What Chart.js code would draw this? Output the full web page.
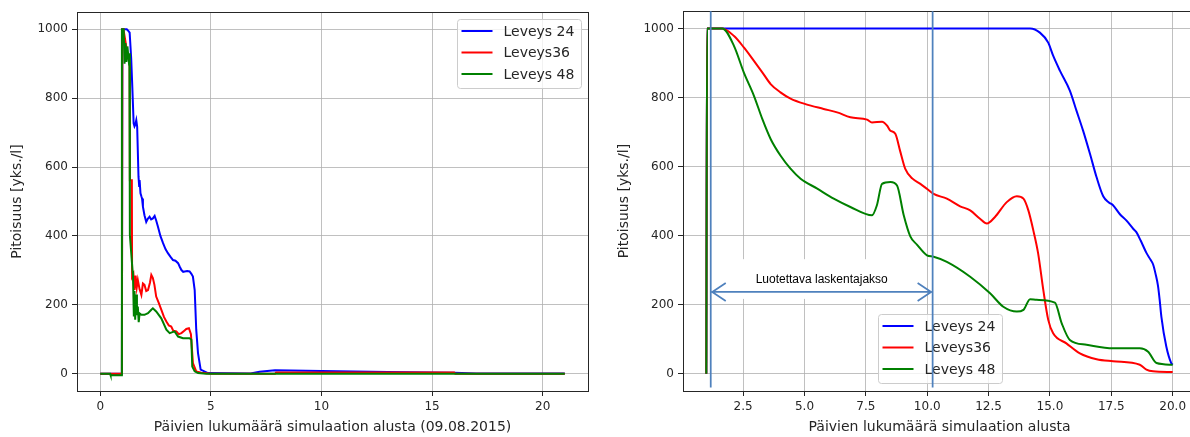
<!DOCTYPE html>
<html>
<head>
<meta charset="utf-8">
<script src="https://cdn.jsdelivr.net/npm/chart.js@4.4.1/dist/chart.umd.min.js"></script>
<style>
  html, body { margin: 0; padding: 0; background: #fff; width: 1190px; height: 437px; overflow: hidden; }
  canvas { position: absolute; top: 0; }
  #left { left: 0; }
  #right { left: 600px; }
</style>
</head>
<body>
<canvas id="left" width="600" height="437"></canvas>
<canvas id="right" width="610" height="437"></canvas>
<script>
/* ---------------------------------------------------------------- *
 * Data. [day, concentration] pairs.
 * ---------------------------------------------------------------- */
const SERIES_LABELS = ["Leveys 24", "Leveys36", "Leveys 48"];
const SERIES_COLORS = ["#0000ff", "#ff0000", "#008000"];

// Left panel: whole run (days from 09.08.2015)
const left24 = [[0,0],[0.98,0],[1.0,1000],[1.2,1000],[1.27,995],[1.33,990],[1.4,915],[1.45,833],[1.51,727],
  [1.55,718],[1.58,722],[1.63,736],[1.67,717],[1.73,572],[1.76,545],[1.78,562],[1.82,524],[1.86,515],[1.89,509],
  [1.93,485],[2.0,460],[2.08,441],[2.15,450],[2.23,456],[2.3,448],[2.38,451],[2.46,458],[2.53,445],[2.61,427],
  [2.72,400],[2.84,379],[2.95,362],[3.06,350],[3.17,340],[3.29,330],[3.4,328],[3.52,321],[3.6,310],[3.67,301],
  [3.75,296],[3.82,297],[3.93,298],[4.04,297],[4.12,290],[4.19,282],[4.27,243],[4.34,128],[4.42,60],[4.54,12],
  [4.87,2],[6.8,1],[7.2,6],[7.9,10],[10,8],[13,5],[16,3],[17,1],[21,1]];
const left36 = [[0,0],[0.98,0],[1.0,1000],[1.05,1000],[1.15,960],[1.25,920],[1.33,900],[1.34,562],[1.43,562],
  [1.44,282],[1.5,290],[1.55,243],[1.6,285],[1.65,250],[1.7,272],[1.78,245],[1.86,229],[1.93,262],[2.0,258],
  [2.08,240],[2.16,243],[2.25,265],[2.31,287],[2.38,278],[2.45,258],[2.53,224],[2.65,205],[2.76,186],[2.88,165],
  [2.99,152],[3.1,140],[3.21,137],[3.3,125],[3.44,123],[3.55,115],[3.67,118],[3.8,125],[3.89,130],[4.01,132],
  [4.1,115],[4.19,31],[4.34,7],[4.57,3],[5,0],[7.9,0],[7.95,4],[16,4],[16.05,0],[21,0]];
const left48 = [[0,0],[0.45,0],[0.47,-4],[0.96,-4],[0.98,1000],[1.06,1000],[1.1,900],[1.14,960],[1.18,905],
  [1.23,950],[1.28,915],[1.32,930],[1.34,403],[1.46,300],[1.48,287],[1.52,166],[1.55,240],[1.58,157],[1.62,230],
  [1.66,170],[1.7,195],[1.74,150],[1.78,175],[1.86,171],[2.0,171],[2.16,176],[2.31,186],[2.38,190],[2.53,181],
  [2.76,161],[2.99,128],[3.14,118],[3.36,123],[3.52,108],[3.74,103],[4.04,103],[4.12,99],[4.16,21],[4.27,7],
  [4.42,2],[4.8,0],[21,0]];

// Right panel: days from the start of the simulation
const right24 = [[1.0,0],[1.03,1000],[14.19,1000],[14.59,988],[14.93,959],[15.13,921],[15.41,877],[15.81,820],
  [16.08,762],[16.35,704],[16.63,637],[16.9,569],[17.17,514],[17.4,496],[17.57,488],[17.85,462],[18.11,444],
  [18.39,420],[18.52,410],[18.7,385],[18.93,350],[19.1,330],[19.2,317],[19.3,290],[19.4,255],[19.47,214],
  [19.54,165],[19.74,79],[19.94,31],[20.0,26]];
const right36 = [[1.0,0],[1.03,1000],[1.65,1000],[2.13,978],[2.53,945],[2.94,906],[3.28,873],[3.62,839],[4.02,815],
  [4.43,797],[5.04,781],[5.78,767],[6.33,757],[6.87,743],[7.55,736],[7.75,728],[8.16,730],[8.36,719],[8.5,704],
  [8.7,695],[8.9,644],[9.1,594],[9.4,565],[9.72,550],[10.0,535],[10.26,521],[10.8,507],[11.34,485],[11.75,473],
  [12.15,449],[12.43,435],[12.76,454],[13.24,497],[13.65,514],[13.92,507],[14.12,473],[14.32,416],[14.52,348],
  [14.73,242],[14.93,156],[15.13,117],[15.67,88],[16.22,59],[16.9,42],[17.57,36],[18.66,26],[18.93,12],[19.2,7],
  [20.0,5]];
const right48 = [[1.0,0],[1.03,1000],[1.65,1000],[2.13,949],[2.53,872],[2.94,805],[3.28,738],[3.62,680],[4.02,632],
  [4.43,594],[4.84,565],[5.52,536],[6.19,507],[6.87,483],[7.75,459],[7.95,488],[8.16,550],[8.5,555],[8.77,545],
  [9.04,460],[9.31,398],[9.58,374],[9.99,343],[10.26,339],[10.8,324],[11.75,281],[12.56,233],[13.1,194],
  [13.65,180],[13.92,185],[14.19,216],[14.46,214],[15.2,206],[15.48,146],[15.81,98],[16.49,84],[17.57,74],
  [18.66,74],[19.0,64],[19.34,31],[20.0,26]];

// "Reliable period" marker on the right panel (data units)
const spanStart = 1.18;
const spanEnd = 10.22;
const spanArrowY = 237;
const spanLabelY = 271;
const spanLabel = "Luotettava laskentajakso";

const Y_TITLE = "Pitoisuus [yks./l]";
const X_TITLE_LEFT = "Päivien lukumäärä simulaation alusta (09.08.2015)";
const X_TITLE_RIGHT = "Päivien lukumäärä simulaation alusta";

/* ---------------------------------------------------------------- *
 * Plugins: matplotlib-like frame, boxed legend, span annotation
 * ---------------------------------------------------------------- */
const framePlugin = {
  id: "frame",
  afterDatasetsDraw(chart) {
    const { ctx, chartArea: a } = chart;
    ctx.save();
    ctx.strokeStyle = "#262626";
    ctx.lineWidth = 1;
    ctx.strokeRect(Math.round(a.left) + 0.5, Math.round(a.top) + 0.5,
                   Math.round(a.right - a.left), Math.round(a.bottom - a.top));
    ctx.restore();
  },
};

const boxLegend = {
  id: "boxLegend",
  afterDraw(chart, args, opts) {
    const { ctx, chartArea: a } = chart;
    const items = chart.data.datasets;
    ctx.save();
    ctx.font = '14px "DejaVu Sans"';
    const textW = Math.max(...items.map((d) => ctx.measureText(d.label).width));
    const w = 4 + 31 + 11 + textW + 7;
    const h = 69;
    let x, y;
    if (opts.loc === "lower center") {
      x = (a.left + a.right) / 2 - w / 2;
      y = a.bottom - 8 - h;
    } else {
      x = a.right - 7 - w;
      y = a.top + 7;
    }
    x = Math.round(x) + 0.5; y = Math.round(y) + 0.5;
    ctx.beginPath();
    ctx.roundRect(x, y, Math.round(w), h, 3);
    ctx.fillStyle = "rgba(255,255,255,0.8)";
    ctx.fill();
    ctx.strokeStyle = "#cccccc";
    ctx.lineWidth = 1;
    ctx.stroke();
    ctx.textBaseline = "middle";
    items.forEach((d, i) => {
      const cy = y + 11.5 + i * 21.5;
      ctx.beginPath();
      ctx.moveTo(x + 4, cy);
      ctx.lineTo(x + 35, cy);
      ctx.strokeStyle = d.borderColor;
      ctx.lineWidth = 2;
      ctx.stroke();
      ctx.fillStyle = "#262626";
      ctx.fillText(d.label, x + 46, cy + 1);
    });
    ctx.restore();
  },
};

const spanNote = {
  id: "spanNote",
  beforeDatasetsDraw(chart) {
    // white patch behind the label hides the grid, as in the reference
    const { ctx } = chart;
    const xs = chart.scales.x, ys = chart.scales.y;
    const x0 = xs.getPixelForValue(spanStart), x1 = xs.getPixelForValue(spanEnd);
    const top = ys.getPixelForValue(spanLabelY) - 21;
    const bottom = ys.getPixelForValue(spanArrowY) + 7;
    ctx.save();
    ctx.fillStyle = "#ffffff";
    ctx.fillRect(x0 + 2, top, x1 - x0 - 8, bottom - top);
    ctx.restore();
  },
  afterDraw(chart) {
    const { ctx, chartArea: a } = chart;
    const xs = chart.scales.x, ys = chart.scales.y;
    const x0 = xs.getPixelForValue(spanStart), x1 = xs.getPixelForValue(spanEnd);
    const yA = ys.getPixelForValue(spanArrowY);
    const yBottom = ys.getPixelForValue(-40);
    ctx.save();
    ctx.strokeStyle = "#4f81bd";
    ctx.lineWidth = 1.75;
    ctx.beginPath();
    ctx.moveTo(x0, a.top); ctx.lineTo(x0, yBottom);
    ctx.moveTo(x1, a.top); ctx.lineTo(x1, yBottom);
    ctx.moveTo(x0 + 1, yA); ctx.lineTo(x1 - 1, yA);
    // open arrow heads
    ctx.moveTo(x0 + 15, yA - 9); ctx.lineTo(x0 + 1.5, yA); ctx.lineTo(x0 + 15, yA + 9);
    ctx.moveTo(x1 - 15, yA - 9); ctx.lineTo(x1 - 1.5, yA); ctx.lineTo(x1 - 15, yA + 9);
    ctx.stroke();
    ctx.fillStyle = "#000000";
    ctx.font = '12px "Liberation Sans"';
    ctx.textAlign = "center";
    ctx.textBaseline = "middle";
    ctx.fillText(spanLabel, (x0 + x1) / 2, ys.getPixelForValue(spanLabelY));
    ctx.restore();
  },
};

/* ---------------------------------------------------------------- *
 * Chart factory
 * ---------------------------------------------------------------- */
Chart.defaults.font.family = '"DejaVu Sans", sans-serif';
Chart.defaults.font.size = 12;
Chart.defaults.color = "#262626";

const GRID = { color: "#b0b0b0", lineWidth: 0.8, tickLength: 5, tickColor: "#262626", tickWidth: 1 };
const TITLE_FONT = { size: 14 };

function buildDatasets(series, smooth) {
  return series.map((pairs, i) => ({
    label: SERIES_LABELS[i],
    data: pairs.map(([x, y]) => ({ x, y })),
    borderColor: SERIES_COLORS[i],
    backgroundColor: SERIES_COLORS[i],
    borderWidth: 2,
    pointRadius: 0,
    tension: 0,
    cubicInterpolationMode: smooth ? "monotone" : "default",
    order: series.length - 1 - i,   // last series on top, like matplotlib
    fill: false,
  }));
}

function renderPanel(canvas, opts) {
  const { series, smooth, xMin, xMax, xStep, xFormat, xTitle, yWidth, padding, legendLoc, plugins } = opts;
  return new Chart(canvas, {
    type: "line",
    data: { datasets: buildDatasets(series, smooth) },
    options: {
      responsive: false,
      animation: false,
      devicePixelRatio: 1,
      layout: { padding },
      plugins: {
        legend: { display: false },
        tooltip: { enabled: false },
        boxLegend: { loc: legendLoc },
      },
      scales: {
        x: {
          type: "linear", min: xMin, max: xMax,
          ticks: { stepSize: xStep, includeBounds: false, autoSkip: false, maxRotation: 0,
                   padding: 4, callback: xFormat },
          grid: GRID,
          border: { display: false },
          title: { display: true, text: xTitle, padding: 0, font: TITLE_FONT },
          afterFit: (s) => { s.height = 45; },
        },
        y: {
          type: "linear", min: -50, max: 1050,
          ticks: { stepSize: 200, includeBounds: false, padding: 4, callback: (v) => String(v) },
          grid: GRID,
          border: { display: false },
          title: { display: true, text: Y_TITLE, padding: 0, font: TITLE_FONT },
          afterFit: (s) => { s.width = yWidth; },
        },
      },
    },
    plugins: [framePlugin, boxLegend, ...plugins],
  });
}

renderPanel(document.getElementById("left"), {
  series: [left24, left36, left48],
  smooth: false,
  xMin: -1.05, xMax: 22.05, xStep: 5,
  xFormat: (v) => String(v),
  xTitle: X_TITLE_LEFT,
  yWidth: 68,
  padding: { left: 9, right: 12, top: 12, bottom: 1 },
  legendLoc: "upper right",
  plugins: [],
});

renderPanel(document.getElementById("right"), {
  series: [right24, right36, right48],
  smooth: true,
  xMin: 0.05, xMax: 20.95, xStep: 2.5,
  xFormat: (v) => Number(v).toFixed(1),
  xTitle: X_TITLE_RIGHT,
  yWidth: 67,
  padding: { left: 16, right: 14, top: 11, bottom: 1 },
  legendLoc: "lower center",
  plugins: [spanNote],
});
</script>
</body>
</html>
